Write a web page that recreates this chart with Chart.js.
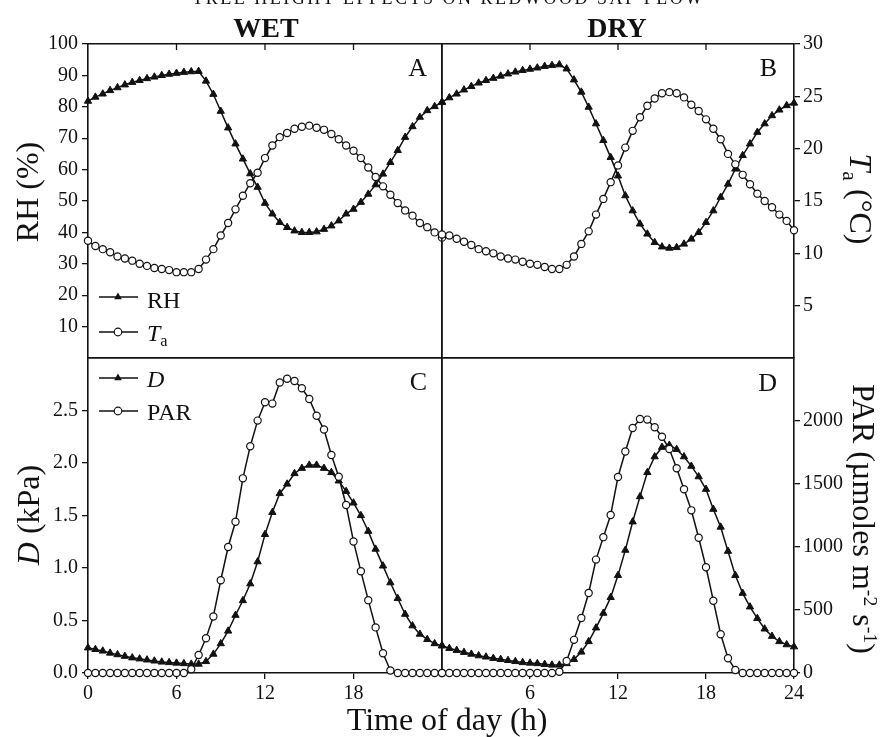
<!DOCTYPE html>
<html>
<head>
<meta charset="utf-8">
<script src="https://cdn.jsdelivr.net/npm/chart.js@4.4.1/dist/chart.umd.min.js"></script>
<style>
body{margin:0;background:#fff;}
#wrap{position:relative;width:883px;height:737px;overflow:hidden;background:#fff;
  font-family:"Liberation Serif","Times New Roman",serif;color:#111;}
canvas{position:absolute;left:0;top:0;}
.t{position:absolute;white-space:nowrap;line-height:1;}
.rl{transform:translate(-50%,-50%) rotate(-90deg);}
.rr{transform:translate(-50%,-50%) rotate(90deg);}
.sub{font-size:0.68em;vertical-align:-0.32em;line-height:0;}
.sup{font-size:0.62em;vertical-align:0.55em;line-height:0;}
</style>
</head>
<body>
<div id="wrap">
<canvas id="cA" width="883" height="737"></canvas>
<canvas id="cB" width="883" height="737"></canvas>
<canvas id="cC" width="883" height="737"></canvas>
<canvas id="cD" width="883" height="737"></canvas>

<div class="t" style="left:7px;width:883px;text-align:center;top:-11px;font-size:18px;letter-spacing:2.5px;">TREE HEIGHT EFFECTS ON REDWOOD SAP FLOW</div>
<div class="t" style="left:266px;top:14px;font-size:28px;font-weight:bold;transform:translateX(-50%);">WET</div>
<div class="t" style="left:617px;top:14px;font-size:28px;font-weight:bold;transform:translateX(-50%);">DRY</div>

<div class="t" style="right:456px;top:55px;font-size:26px;">A</div>
<div class="t" style="right:106px;top:55px;font-size:26px;">B</div>
<div class="t" style="right:456px;top:369px;font-size:26px;">C</div>
<div class="t" style="right:106px;top:370px;font-size:26px;">D</div>

<div class="t" style="left:147px;top:288px;font-size:24px;">RH</div>
<div class="t" style="left:147px;top:321px;font-size:24px;"><i>T</i><span class="sub">a</span></div>
<div class="t" style="left:147px;top:367px;font-size:24px;"><i>D</i></div>
<div class="t" style="left:147px;top:400px;font-size:24px;">PAR</div>

<div class="t rl" style="left:27px;top:192px;font-size:32px;">RH (%)</div>
<div class="t rr" style="left:861px;top:199px;font-size:32px;"><i>T</i><span class="sub">a</span> (°C)</div>
<div class="t rl" style="left:28px;top:515px;font-size:32px;"><i>D</i> (kPa)</div>
<div class="t rr" style="left:864px;top:519px;font-size:32px;">PAR (µmoles m<span class="sup">-2</span> s<span class="sup">-1</span>)</div>
<div class="t" style="left:447px;top:703px;font-size:32px;transform:translateX(-50%);">Time of day (h)</div>
</div>

<script>
// half-hourly time of day
const hours = [0,0.5,1,1.5,2,2.5,3,3.5,4,4.5,5,5.5,6,6.5,7,7.5,8,8.5,9,9.5,10,10.5,11,11.5,
  12,12.5,13,13.5,14,14.5,15,15.5,16,16.5,17,17.5,18,18.5,19,19.5,20,20.5,21,21.5,22,22.5,23,23.5,24];

// panel A - wet season
const wetRH = [81.8,83.1,84.1,85.2,86.1,87.0,87.8,88.4,89.0,89.5,90.0,90.4,90.7,91.0,91.2,91.3,
  88.2,84.0,78.6,73.3,68.2,63.4,58.7,54.4,49.3,45.9,43.2,41.6,40.5,40.0,40.0,40.2,41.0,42.1,
  43.7,45.9,47.4,49.6,52.2,55.2,58.6,62.3,66.1,70.3,73.7,76.7,78.8,80.1,81.5];
const wetTa = [11.2,10.7,10.4,10.1,9.7,9.5,9.3,9.0,8.8,8.6,8.5,8.4,8.2,8.2,8.2,8.5,9.4,10.4,
  11.7,12.9,14.2,15.5,16.7,17.7,19.1,20.3,21.1,21.5,21.9,22.1,22.2,22.0,21.8,21.4,20.9,20.3,
  19.8,19.1,18.2,17.3,16.4,15.6,14.8,14.1,13.6,12.9,12.5,12.0,11.5];

// panel B - dry season
const dryRH = [81.5,82.9,84.1,85.4,86.5,87.6,88.4,89.1,89.8,90.5,91.1,91.6,92.0,92.4,92.9,93.2,
  93.4,92.1,88.6,84.7,79.9,74.6,69.3,63.9,58.0,51.7,46.9,42.7,39.5,36.8,35.4,35.0,35.2,36.3,
  37.9,40.0,43.2,46.9,51.2,55.4,60.2,64.5,68.2,71.9,74.6,77.2,79.0,80.4,81.2];
const dryTa = [11.8,11.7,11.4,11.1,10.8,10.4,10.2,10.0,9.7,9.5,9.4,9.2,9.0,8.9,8.7,8.5,8.5,8.9,
  9.7,10.9,12.1,13.7,15.2,16.8,18.4,20.1,21.7,23.0,24.1,24.8,25.3,25.4,25.3,24.9,24.2,23.6,
  22.8,21.9,20.9,19.5,18.5,17.5,16.6,15.7,15.0,14.4,13.7,13.1,12.2];

// panel C - wet season
const wetD = [0.24,0.225,0.21,0.19,0.175,0.16,0.145,0.135,0.125,0.115,0.105,0.10,0.095,0.09,
  0.085,0.085,0.11,0.18,0.28,0.40,0.55,0.69,0.85,1.06,1.32,1.53,1.71,1.80,1.90,1.95,1.98,1.98,
  1.95,1.91,1.83,1.73,1.62,1.50,1.35,1.18,1.02,0.86,0.71,0.56,0.45,0.37,0.32,0.28,0.26];
const wetPAR = [0,0,0,0,0,0,0,0,0,0,0,0,0,0,30,143,276,449,736,1000,1200,1545,1800,2003,2149,
  2138,2305,2335,2318,2260,2175,2042,1932,1730,1558,1333,1044,807,578,362,157,20,0,0,0,0,0,0,0];

// panel D - dry season
const dryD = [0.26,0.235,0.216,0.197,0.18,0.165,0.153,0.14,0.13,0.12,0.11,0.10,0.095,0.09,
  0.083,0.076,0.076,0.09,0.13,0.20,0.30,0.43,0.57,0.72,0.93,1.17,1.44,1.68,1.91,2.06,2.15,2.17,
  2.13,2.06,1.97,1.87,1.75,1.56,1.39,1.16,0.93,0.76,0.63,0.52,0.42,0.35,0.30,0.27,0.25];
const dryPAR = [0,0,0,0,0,0,0,0,0,0,0,0,0,0,0,0,10,96,263,436,635,900,1078,1254,1556,1758,1944,
  2016,2011,1950,1875,1777,1625,1458,1291,1073,839,574,308,117,24,0,0,0,0,0,0,0,0];

const INK = '#111';
const AXIS = 80;   // room given to a labelled y axis
const XAXIS = 40;  // room given to a labelled x axis
Chart.defaults.font.family = '"Liberation Serif", "Times New Roman", serif';

function pts(ys) { return ys.map((y, i) => ({x: hours[i], y: y})); }

// fixed axis sizes so the four plot boxes line up exactly
function fixedFit(size) {
  return function (s) {
    if (s.isHorizontal()) s.height = size; else s.width = size;
    s.paddingLeft = s.paddingRight = s.paddingTop = s.paddingBottom = 0;
  };
}

function scale(position, axis, min, max, step, cb, pad) {
  const shown = !!cb;
  const size = shown ? (axis === 'x' ? XAXIS : AXIS) : 0;
  return {
    type: 'linear', axis: axis, position: position, min: min, max: max,
    afterFit: fixedFit(size),
    border: {display: true, color: INK, width: 1.6},
    grid: {display: shown, drawOnChartArea: false, drawTicks: true, tickLength: 6, color: INK, lineWidth: 1.3},
    ticks: {display: shown, stepSize: step, autoSkip: false, maxRotation: 0, callback: cb || (v => v),
      padding: pad || 0, color: INK, font: {size: 20}}
  };
}

function drawMarker(ctx, style, x, y) {
  ctx.beginPath();
  if (style === 'triangle') {
    const r = 4.4;
    let a = 0;
    ctx.moveTo(x + Math.sin(a) * r, y - Math.cos(a) * r);
    a += 2 * Math.PI / 3; ctx.lineTo(x + Math.sin(a) * r, y - Math.cos(a) * r);
    a += 2 * Math.PI / 3; ctx.lineTo(x + Math.sin(a) * r, y - Math.cos(a) * r);
    ctx.closePath();
    ctx.fillStyle = INK; ctx.fill();
  } else {
    ctx.arc(x, y, 3.8, 0, Math.PI * 2);
    ctx.fillStyle = '#fff'; ctx.fill();
    ctx.lineWidth = 1.2; ctx.strokeStyle = INK; ctx.stroke();
  }
}

const decor = {
  id: 'decor',
  afterDraw(chart, args, opts) {
    const ctx = chart.ctx, a = chart.chartArea;
    ctx.save();
    ctx.strokeStyle = INK;
    ctx.lineWidth = 1.3;
    (opts.topTicks || []).forEach(v => {
      const x = chart.scales.xt.getPixelForValue(v);
      ctx.beginPath(); ctx.moveTo(x, a.top); ctx.lineTo(x, a.top + 6); ctx.stroke();
    });
    (opts.legend || []).forEach(it => {
      ctx.lineWidth = 1.5; ctx.strokeStyle = INK;
      ctx.beginPath(); ctx.moveTo(99, it.y); ctx.lineTo(138, it.y); ctx.stroke();
      drawMarker(ctx, it.style, 118, it.y);
    });
    ctx.restore();
  }
};

// box = plot area edges in page pixels
function panel(id, box, scales, tri, cir, decorOpts) {
  const pad = {
    left: box.left - (scales.yL.ticks.display ? AXIS : 0),
    right: 883 - box.right - (scales.yR.ticks.display ? AXIS : 0),
    top: box.top,
    bottom: 737 - box.bottom - (scales.x.ticks.display ? XAXIS : 0)
  };
  new Chart(document.getElementById(id), {
    type: 'line',
    data: {datasets: [
      {label: tri.label, data: pts(tri.data), yAxisID: 'yL', clip: false, tension: 0, order: 1,
        borderColor: INK, borderWidth: 1.5, pointStyle: 'triangle', pointRadius: 4.2,
        pointBackgroundColor: INK, pointBorderColor: INK, pointBorderWidth: 1},
      {label: cir.label, data: pts(cir.data), yAxisID: 'yR', clip: false, tension: 0, order: 0,
        borderColor: INK, borderWidth: 1.5, pointStyle: 'circle', pointRadius: 3.6,
        pointBackgroundColor: '#fff', pointBorderColor: INK, pointBorderWidth: 1.2}
    ]},
    options: {
      responsive: false, animation: false, devicePixelRatio: 1, events: [],
      layout: {padding: pad},
      plugins: {legend: {display: false}, tooltip: {enabled: false}, decor: decorOpts},
      scales: scales
    },
    plugins: [decor]
  });
}

const noZero = v => v === 0 ? null : v;

panel('cA', {left: 88, right: 442, top: 44, bottom: 358}, {
  x: scale('bottom', 'x', 0, 24, 6),
  xt: scale('top', 'x', 0, 24, 6),
  yL: scale('left', 'y', 0, 100, 10, noZero, 4),
  yR: scale('right', 'y', 0, 30, 5)
}, {label: 'RH', data: wetRH}, {label: 'Ta', data: wetTa},
  {topTicks: [6, 12, 18], legend: [{style: 'triangle', y: 297}, {style: 'circle', y: 332}]});

panel('cB', {left: 442, right: 794, top: 44, bottom: 358}, {
  x: scale('bottom', 'x', 0, 24, 6),
  xt: scale('top', 'x', 0, 24, 6),
  yL: scale('left', 'y', 0, 100, 10),
  yR: scale('right', 'y', 0, 30, 5, noZero, 3)
}, {label: 'RH', data: dryRH}, {label: 'Ta', data: dryTa},
  {topTicks: [6, 12, 18]});

panel('cC', {left: 88, right: 442, top: 358, bottom: 673}, {
  x: scale('bottom', 'x', 0, 24, 6, v => v === 24 ? null : v, 3),
  xt: scale('top', 'x', 0, 24, 6),
  yL: scale('left', 'y', 0, 3, 0.5, v => v > 2.9 ? null : v.toFixed(1), 4),
  yR: scale('right', 'y', 0, 2500, 500)
}, {label: 'D', data: wetD}, {label: 'PAR', data: wetPAR},
  {legend: [{style: 'triangle', y: 378}, {style: 'circle', y: 411}]});

panel('cD', {left: 442, right: 794, top: 358, bottom: 673}, {
  x: scale('bottom', 'x', 0, 24, 6, noZero, 3),
  xt: scale('top', 'x', 0, 24, 6),
  yL: scale('left', 'y', 0, 3, 0.5),
  yR: scale('right', 'y', 0, 2500, 500, v => v >= 2500 ? null : v, 3)
}, {label: 'D', data: dryD}, {label: 'PAR', data: dryPAR}, {});
</script>
</body>
</html>
